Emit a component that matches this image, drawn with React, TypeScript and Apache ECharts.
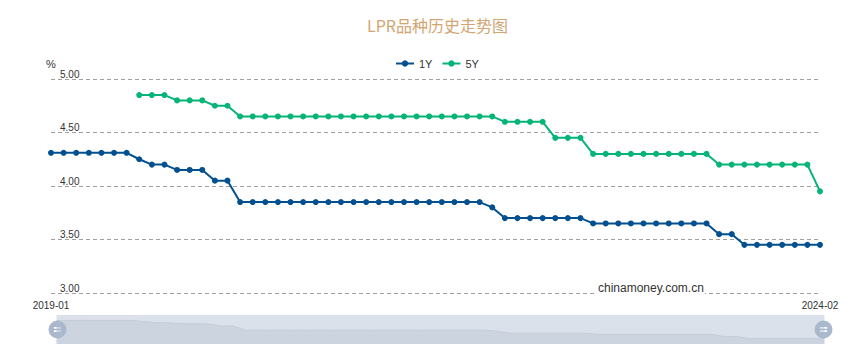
import React, { useEffect, useRef } from "react";
import * as echarts from "echarts";

const months: string[] = [
  "2019-01","2019-02","2019-03","2019-04","2019-05","2019-06","2019-07","2019-08","2019-09","2019-10","2019-11","2019-12",
  "2020-01","2020-02","2020-03","2020-04","2020-05","2020-06","2020-07","2020-08","2020-09","2020-10","2020-11","2020-12",
  "2021-01","2021-02","2021-03","2021-04","2021-05","2021-06","2021-07","2021-08","2021-09","2021-10","2021-11","2021-12",
  "2022-01","2022-02","2022-03","2022-04","2022-05","2022-06","2022-07","2022-08","2022-09","2022-10","2022-11","2022-12",
  "2023-01","2023-02","2023-03","2023-04","2023-05","2023-06","2023-07","2023-08","2023-09","2023-10","2023-11","2023-12",
  "2024-01","2024-02",
];

const lpr1Y: number[] = [
  4.31, 4.31, 4.31, 4.31, 4.31, 4.31, 4.31, 4.25, 4.20, 4.20, 4.15, 4.15,
  4.15, 4.05, 4.05, 3.85, 3.85, 3.85, 3.85, 3.85, 3.85, 3.85, 3.85, 3.85,
  3.85, 3.85, 3.85, 3.85, 3.85, 3.85, 3.85, 3.85, 3.85, 3.85, 3.85, 3.80,
  3.70, 3.70, 3.70, 3.70, 3.70, 3.70, 3.70, 3.65, 3.65, 3.65, 3.65, 3.65,
  3.65, 3.65, 3.65, 3.65, 3.65, 3.55, 3.55, 3.45, 3.45, 3.45, 3.45, 3.45,
  3.45, 3.45,
];

const lpr5Y: (number | null)[] = [
  null, null, null, null, null, null, null, 4.85, 4.85, 4.85, 4.80, 4.80,
  4.80, 4.75, 4.75, 4.65, 4.65, 4.65, 4.65, 4.65, 4.65, 4.65, 4.65, 4.65,
  4.65, 4.65, 4.65, 4.65, 4.65, 4.65, 4.65, 4.65, 4.65, 4.65, 4.65, 4.65,
  4.60, 4.60, 4.60, 4.60, 4.45, 4.45, 4.45, 4.30, 4.30, 4.30, 4.30, 4.30,
  4.30, 4.30, 4.30, 4.30, 4.30, 4.20, 4.20, 4.20, 4.20, 4.20, 4.20, 4.20,
  4.20, 3.95,
];

const seriesNames = ["1Y", "5Y"];
const yTicks = { min: 3, max: 5, interval: 0.5 };

const HANDLE =
  "path://M10,0A10,10,0,1,1,10,20A10,10,0,1,1,10,0Z M6,7.2L6,9.2L14,9.2L14,7.2Z M6,10.8L6,12.8L14,12.8L14,10.8Z";

export default function App() {
  const ref = useRef<HTMLDivElement>(null);
  useEffect(() => {
    if (!ref.current) return;
    const chart = echarts.init(ref.current, undefined, { renderer: "svg" });
    const font = "'Liberation Sans', Arial, sans-serif";
    const last = months.length - 1;
    chart.setOption({
      animation: false,
      textStyle: { fontFamily: font },
      title: {
        text: "LPR品种历史走势图",
        left: 362,
        top: 12,
        textStyle: {
          color: "#d2a572",
          fontSize: 16,
          fontWeight: "normal",
          fontFamily: "'Noto Sans CJK SC', sans-serif",
        },
      },
      legend: {
        top: 53,
        left: 390,
        itemWidth: 18,
        itemHeight: 8,
        itemGap: 9,
        textStyle: { color: "#333", fontSize: 11, fontFamily: font },
        data: seriesNames,
      },
      grid: { left: 51, right: 30, top: 79, bottom: 69, containLabel: false },
      xAxis: {
        type: "category",
        data: months,
        boundaryGap: false,
        axisLine: { show: false },
        axisTick: { show: false },
        splitLine: { show: false },
        axisLabel: {
          color: "#333",
          fontSize: 10,
          margin: 7,
          interval: (i: number) => i === 0 || i === last,
          showMinLabel: true,
          showMaxLabel: true,
        },
      },
      yAxis: {
        type: "value",
        min: yTicks.min,
        max: yTicks.max,
        interval: yTicks.interval,
        name: "%",
        nameLocation: "end",
        nameGap: 0,
        nameTextStyle: { color: "#333", fontSize: 11, align: "center", verticalAlign: "bottom" },
        axisLine: { show: false },
        axisTick: { show: false },
        axisLabel: {
          inside: true,
          margin: 9,
          color: "#333",
          fontSize: 10,
          verticalAlign: "bottom",
          formatter: (v: number) => v.toFixed(2),
        },
        splitLine: {
          show: true,
          lineStyle: { color: "#a0a0a0", type: [4, 3], width: 1 },
        },
      },
      dataZoom: [
        {
          type: "slider",
          xAxisIndex: 0,
          start: 0,
          end: 100,
          left: 54,
          right: 28,
          top: 315,
          height: 29,
          showDetail: false,
          showDataShadow: true,
          brushSelect: false,
          moveHandleSize: 0,
          borderColor: "transparent",
          backgroundColor: "#dbe1ea",
          fillerColor: "rgba(0,0,0,0)",
          handleIcon: HANDLE,
          handleSize: 18,
          handleStyle: { color: "#a9b8cc", borderColor: "#a9b8cc", borderWidth: 0 },
          dataBackground: {
            lineStyle: { color: "#c4ccd8", width: 1, opacity: 1 },
            areaStyle: { color: "#ccd4df", opacity: 1 },
          },
          selectedDataBackground: {
            lineStyle: { color: "#c4ccd8", width: 1, opacity: 1 },
            areaStyle: { color: "#ccd4df", opacity: 1 },
          },
        },
      ],
      graphic: [
        {
          type: "text",
          left: 597,
          top: 282,
          z: 100,
          style: {
            text: "chinamoney.com.cn",
            font: "12px 'Liberation Sans', Arial, sans-serif",
            fill: "#333",
            backgroundColor: "#fff",
            padding: [0, 1],
          },
        },
      ],
      series: [
        {
          name: seriesNames[0],
          type: "line",
          data: lpr1Y,
          symbol: "circle",
          symbolSize: 6,
          showAllSymbol: true,
          color: "#02508f",
          lineStyle: { width: 2, color: "#02508f" },
          itemStyle: { color: "#02508f" },
        },
        {
          name: seriesNames[1],
          type: "line",
          data: lpr5Y,
          symbol: "circle",
          symbolSize: 6,
          showAllSymbol: true,
          color: "#05b476",
          lineStyle: { width: 2, color: "#05b476" },
          itemStyle: { color: "#05b476" },
        },
      ],
    });
    return () => chart.dispose();
  }, []);
  return (
    <div
      ref={ref}
      style={{ position: "absolute", left: 0, top: 0, width: 850, height: 362, background: "#fff" }}
    />
  );
}
